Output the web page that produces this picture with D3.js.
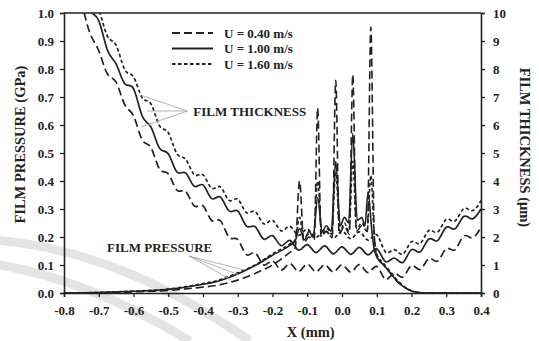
<!DOCTYPE html>
<html>
<head>
<meta charset="utf-8">
<script src="https://cdn.jsdelivr.net/npm/d3@7"></script>
<style>
  body { margin: 0; background: #fff; }
  text { font-family: "Liberation Serif", "Times New Roman", serif; font-weight: bold; fill: #222; }
</style>
</head>
<body>
<div id="chart"></div>
<script>
//-------- chart data --------

// speeds shown in the legend
var speeds = ['U = 0.40 m/s', 'U = 1.00 m/s', 'U = 1.60 m/s'];

// film thickness samples (um), one x grid for all three
var thickX = [-0.75, -0.725, -0.7, -0.675, -0.65, -0.625, -0.6, -0.575, -0.55, -0.525, -0.5, -0.475,
  -0.45, -0.425, -0.4, -0.375, -0.35, -0.325, -0.3, -0.275, -0.25, -0.225, -0.2, -0.175,
  -0.15, -0.125, -0.1, -0.075, -0.05, -0.025, 0, 0.025, 0.05, 0.075, 0.1, 0.125,
  0.15, 0.175, 0.2, 0.225, 0.25, 0.275, 0.3, 0.325, 0.35, 0.375, 0.4];
var thick040 = [10.43, 9.27, 8.65, 7.82, 7.53, 6.72, 6.33, 5.47, 5.2, 4.42, 4.26, 3.67,
  3.63, 3.11, 3.11, 2.59, 2.58, 1.99, 1.91, 1.37, 1.43, 1.0, 1.15, 0.82,
  1.05, 0.77, 1.03, 0.76, 1.01, 0.75, 1.01, 0.75, 1.01, 0.73, 0.95, 0.49,
  0.71, 0.57, 0.98, 0.84, 1.23, 1.14, 1.58, 1.54, 2.03, 1.97, 2.35];
var thick100 = [10.93, 10.07, 9.73, 8.67, 8.18, 7.47, 7.3, 6.32, 5.93, 5.17, 4.97, 4.32,
  4.29, 3.81, 3.86, 3.37, 3.43, 2.93, 2.93, 2.39, 2.37, 1.92, 2.05, 1.69,
  1.88, 1.53, 1.73, 1.44, 1.68, 1.4, 1.65, 1.38, 1.63, 1.36, 1.58, 1.12,
  1.25, 1.09, 1.55, 1.47, 1.93, 1.87, 2.35, 2.29, 2.73, 2.65, 3.0];
var thick160 = [11.63, 10.67, 10.13, 9.17, 8.85, 7.97, 7.72, 6.97, 6.76, 5.97, 5.73, 4.97,
  4.78, 4.22, 4.22, 3.74, 3.79, 3.31, 3.35, 2.87, 2.91, 2.47, 2.6, 2.22,
  2.38, 2.06, 2.28, 1.99, 2.23, 1.96, 2.21, 1.94, 2.18, 1.89, 2.08, 1.47,
  1.55, 1.39, 1.83, 1.77, 2.23, 2.17, 2.63, 2.57, 3.01, 2.94, 3.3];

// film pressure samples (GPa)
var presX040 = [-0.8, -0.7, -0.6, -0.5, -0.43, -0.35, -0.3, -0.25, -0.2, -0.15, -0.135, -0.122, -0.11,
  -0.095, -0.08, -0.07, -0.06, -0.045, -0.028, -0.018, -0.008, 0.007, 0.021, 0.031, 0.041,
  0.057, 0.073, 0.083, 0.093, 0.1, 0.12, 0.14, 0.16, 0.18, 0.2, 0.22, 0.25, 0.4];
var pres040 = [0, 0.001, 0.004, 0.009, 0.017, 0.03, 0.046, 0.07, 0.1, 0.145, 0.16, 0.40, 0.18,
  0.2, 0.19, 0.66, 0.2, 0.22, 0.2, 0.76, 0.21, 0.24, 0.21, 0.78, 0.22,
  0.24, 0.22, 0.95, 0.2, 0.13, 0.1, 0.07, 0.04, 0.02, 0.007, 0.002, 0, 0];
var presX100 = [-0.8, -0.7, -0.6, -0.5, -0.43, -0.35, -0.3, -0.25, -0.2, -0.15, -0.135, -0.122, -0.108,
  -0.095, -0.083, -0.07, -0.057, -0.045, -0.031, -0.018, -0.005, 0.007, 0.019, 0.031, 0.044,
  0.057, 0.066, 0.075, 0.086, 0.092, 0.1, 0.12, 0.14, 0.16, 0.18, 0.2, 0.22, 0.25, 0.4];
var pres100 = [0, 0.002, 0.006, 0.013, 0.025, 0.045, 0.068, 0.098, 0.135, 0.17, 0.185, 0.23, 0.19,
  0.22, 0.2, 0.34, 0.22, 0.24, 0.22, 0.47, 0.24, 0.27, 0.25, 0.57, 0.26,
  0.27, 0.24, 0.36, 0.22, 0.16, 0.13, 0.1, 0.07, 0.04, 0.02, 0.007, 0.002, 0, 0];
var presX160 = [-0.8, -0.7, -0.6, -0.5, -0.43, -0.35, -0.3, -0.25, -0.2, -0.15, -0.135, -0.122, -0.11,
  -0.095, -0.082, -0.07, -0.058, -0.043, -0.03, -0.018, -0.006, 0.007, 0.02, 0.031, 0.042,
  0.057, 0.072, 0.083, 0.093, 0.1, 0.12, 0.14, 0.16, 0.18, 0.2, 0.22, 0.25, 0.4];
var pres160 = [0, 0.002, 0.007, 0.014, 0.027, 0.048, 0.072, 0.1, 0.14, 0.175, 0.19, 0.27, 0.2,
  0.21, 0.2, 0.4, 0.21, 0.23, 0.21, 0.43, 0.22, 0.25, 0.22, 0.47, 0.23,
  0.25, 0.22, 0.42, 0.2, 0.14, 0.105, 0.075, 0.045, 0.022, 0.008, 0.002, 0, 0];

// tick values
var xTicks = [-0.8, -0.7, -0.6, -0.5, -0.4, -0.3, -0.2, -0.1, 0.0, 0.1, 0.2, 0.3, 0.4];
var pTicks = [0, 0.1, 0.2, 0.3, 0.4, 0.5, 0.6, 0.7, 0.8, 0.9, 1.0];
var hTicks = [0, 1, 2, 3, 4, 5, 6, 7, 8, 9, 10];

//-------- layout --------
var W = 539, H = 341;
var margin = { left: 64, right: 58, top: 13, bottom: 48 };
var dashes = ['8,4', null, '3.5,2.5'];

var svg = d3.select('#chart').append('svg').attr('width', W).attr('height', H);

// faint watermark bands in the background
var wm = svg.append('g').attr('fill', 'none').attr('stroke', '#e4e4e4');
wm.append('path').attr('stroke-width', 9).attr('d', 'M-5,240 Q120,250 250,341');
wm.append('path').attr('stroke-width', 9).attr('d', 'M-5,264 Q90,280 190,341');

var x = d3.scaleLinear().domain([-0.8, 0.4]).range([margin.left, W - margin.right]);
var yP = d3.scaleLinear().domain([0, 1]).range([H - margin.bottom, margin.top]);
var yH = d3.scaleLinear().domain([0, 10]).range([H - margin.bottom, margin.top]);

svg.append('clipPath').attr('id', 'plotclip').append('rect')
  .attr('x', margin.left).attr('y', margin.top)
  .attr('width', W - margin.left - margin.right).attr('height', H - margin.top - margin.bottom);

var fmt = function (d) { return d3.format('.1f')(d).replace('\u2212', '-'); };

//-------- curves --------
var plot = svg.append('g').attr('clip-path', 'url(#plotclip)');

var thickLine = d3.line().x(function (d) { return x(d[0]); }).y(function (d) { return yH(d[1]); }).curve(d3.curveNatural);
var presLine = d3.line().x(function (d) { return x(d[0]); }).y(function (d) { return yP(d[1]); }).curve(d3.curveMonotoneX);

var thickSets = [d3.zip(thickX, thick040), d3.zip(thickX, thick100), d3.zip(thickX, thick160)];
var presSets = [d3.zip(presX040, pres040), d3.zip(presX100, pres100), d3.zip(presX160, pres160)];

thickSets.forEach(function (s, i) {
  plot.append('path').attr('d', thickLine(s)).attr('fill', 'none').attr('stroke', '#222')
    .attr('stroke-width', 1.7).attr('stroke-dasharray', dashes[i]);
});
presSets.forEach(function (s, i) {
  plot.append('path').attr('d', presLine(s)).attr('fill', 'none').attr('stroke', '#222')
    .attr('stroke-width', 1.6).attr('stroke-dasharray', dashes[i]);
});

//-------- annotations --------
var thickNote = { x: -0.445, h: 6.5, ends: [[-0.575, 7.05], [-0.56, 6.5], [-0.578, 5.93]] };
var presNote = { x: -0.44, p: 0.132, ends: [[-0.281, 0.082], [-0.295, 0.064], [-0.318, 0.046]] };

thickNote.ends.forEach(function (e) {
  svg.append('line').attr('x1', x(thickNote.x)).attr('y1', yH(thickNote.h))
    .attr('x2', x(e[0])).attr('y2', yH(e[1])).attr('stroke', '#aaa').attr('stroke-width', 0.9);
});
svg.append('text').attr('x', x(thickNote.x) + 6).attr('y', yH(thickNote.h) + 4.5)
  .attr('font-size', 13).text('FILM THICKNESS');

presNote.ends.forEach(function (e) {
  svg.append('line').attr('x1', x(presNote.x)).attr('y1', yP(presNote.p))
    .attr('x2', x(e[0])).attr('y2', yP(e[1])).attr('stroke', '#aaa').attr('stroke-width', 0.9);
});
svg.append('text').attr('x', x(presNote.x) - 82).attr('y', yP(presNote.p) - 4)
  .attr('font-size', 13).text('FILM PRESSURE');

//-------- legend --------
var legend = svg.append('g').attr('transform', 'translate(172,33)');
speeds.forEach(function (s, i) {
  var g = legend.append('g').attr('transform', 'translate(0,' + (i * 15.5) + ')');
  g.append('line').attr('x1', 0).attr('x2', 41).attr('stroke', '#222').attr('stroke-width', 2)
    .attr('stroke-dasharray', dashes[i]);
  g.append('text').attr('x', 52).attr('y', 4.5).attr('font-size', 13).text(s);
});

//-------- axes --------
var axB = svg.append('g').attr('transform', 'translate(0,' + (H - margin.bottom) + ')')
  .call(d3.axisBottom(x).tickValues(xTicks).tickFormat(fmt).tickSize(4).tickPadding(9));
var axL = svg.append('g').attr('transform', 'translate(' + margin.left + ',0)')
  .call(d3.axisLeft(yP).tickValues(pTicks).tickFormat(fmt).tickSize(4).tickPadding(6));
var axR = svg.append('g').attr('transform', 'translate(' + (W - margin.right) + ',0)')
  .call(d3.axisRight(yH).tickValues(hTicks).tickFormat(d3.format('d')).tickSize(4).tickPadding(8));

[axB, axL, axR].forEach(function (a) {
  a.select('.domain').attr('stroke', '#222').attr('stroke-width', 1.6);
  a.selectAll('.tick line').attr('stroke', '#222').attr('stroke-width', 1.3);
  a.selectAll('.tick text').attr('font-size', 13).attr('fill', '#222')
    .style('font-family', '"Liberation Serif", serif').style('font-weight', 'bold');
});

// top frame line
svg.append('line').attr('x1', margin.left).attr('x2', W - margin.right)
  .attr('y1', margin.top).attr('y2', margin.top).attr('stroke', '#222').attr('stroke-width', 1.6);

//-------- axis titles --------
svg.append('text').attr('transform', 'translate(25,' + yP(0.53) + ') rotate(-90)')
  .attr('text-anchor', 'middle').attr('font-size', 14.5).text('FILM PRESSURE (GPa)');
svg.append('text').attr('transform', 'translate(520,' + yH(5.2) + ') rotate(90)')
  .attr('text-anchor', 'middle').attr('font-size', 14.5).text('FILM THICKNESS (\u03bcm)');
svg.append('text').attr('x', x(-0.09)).attr('y', 337).attr('text-anchor', 'middle')
  .attr('font-size', 14.5).text('X (mm)');
</script>
</body>
</html>
